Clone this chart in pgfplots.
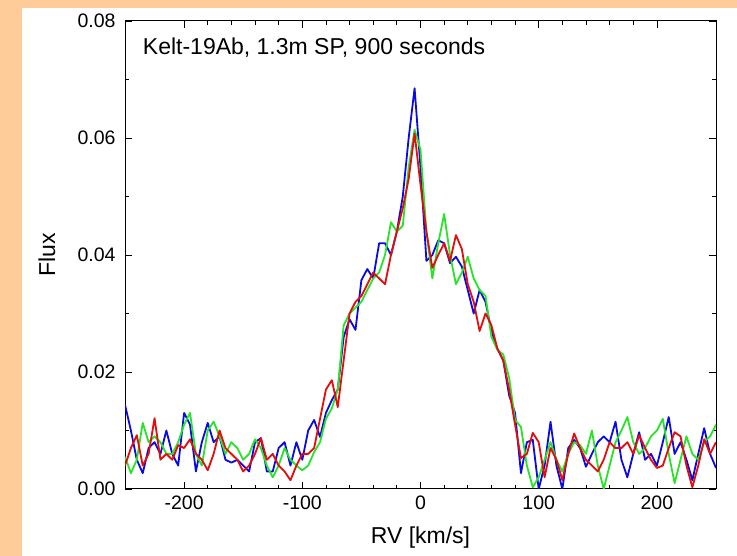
\documentclass[border=0pt]{standalone}
\usepackage{fontspec}
\setmainfont{Liberation Sans}
\usepackage{pgfplots}
\usepackage{pgfplotstable}
\pgfplotsset{compat=1.18}
\definecolor{peach}{RGB}{254,204,153}
\definecolor{cblue}{RGB}{10,10,225}
\definecolor{cgreen}{RGB}{40,228,40}
\definecolor{cred}{RGB}{228,12,12}

\pgfplotstableread{
v b g r
-250 0.0144 0.0055 0.0040
-245 0.0100 0.0027 0.0070
-240 0.0050 0.0050 0.0092
-235 0.0027 0.0113 0.0040
-230 0.0070 0.0080 0.0060
-225 0.0080 0.0090 0.0121
-220 0.0060 0.0080 0.0050
-215 0.0100 0.0060 0.0060
-210 0.0060 0.0060 0.0050
-205 0.0040 0.0080 0.0075
-200 0.0130 0.0110 0.0070
-195 0.0110 0.0130 0.0085
-190 0.0030 0.0060 0.0060
-185 0.0080 0.0040 0.0050
-180 0.0113 0.0100 0.0032
-175 0.0080 0.0115 0.0060
-170 0.0090 0.0090 0.0100
-165 0.0050 0.0060 0.0070
-160 0.0045 0.0080 0.0060
-155 0.0050 0.0070 0.0050
-150 0.0040 0.0050 0.0030
-145 0.0030 0.0060 0.0040
-140 0.0080 0.0085 0.0060
-135 0.0087 0.0070 0.0087
-130 0.0030 0.0040 0.0050
-125 0.0030 0.0020 0.0060
-120 0.0070 0.0040 0.0040
-115 0.0080 0.0070 0.0030
-110 0.0040 0.0050 0.0015
-105 0.0080 0.0040 0.0040
-100 0.0050 0.0032 0.0060
-95 0.0100 0.0040 0.0060
-90 0.0118 0.0063 0.0070
-85 0.0089 0.0080 0.0120
-80 0.0130 0.0120 0.0170
-75 0.0152 0.0138 0.0186
-70 0.0170 0.0170 0.0140
-65 0.0260 0.0280 0.0220
-60 0.0290 0.0300 0.0300
-55 0.0272 0.0310 0.0320
-50 0.0357 0.0320 0.0330
-45 0.0376 0.0340 0.0350
-40 0.0360 0.0360 0.0370
-35 0.0420 0.0370 0.0360
-30 0.0420 0.0400 0.0350
-25 0.0400 0.0456 0.0400
-20 0.0440 0.0440 0.0440
-15 0.0500 0.0450 0.0480
-10 0.0600 0.0550 0.0530
-5 0.0685 0.0614 0.0608
0 0.0550 0.0580 0.0520
5 0.0390 0.0440 0.0440
10 0.0400 0.0360 0.0378
15 0.0425 0.0420 0.0400
20 0.0420 0.0470 0.0420
25 0.0386 0.0400 0.0390
30 0.0397 0.0350 0.0434
35 0.0380 0.0370 0.0410
40 0.0340 0.0397 0.0350
45 0.0300 0.0360 0.0320
50 0.0340 0.0340 0.0270
55 0.0320 0.0330 0.0300
60 0.0270 0.0260 0.0280
65 0.0240 0.0238 0.0240
70 0.0220 0.0230 0.0220
75 0.0160 0.0190 0.0170
80 0.0130 0.0118 0.0110
85 0.0027 0.0106 0.0053
90 0.0080 0.0040 0.0060
95 0.0084 0.0003 0.0096
100 0.0000 0.0020 0.0080
105 0.0040 0.0050 0.0020
110 0.0115 0.0080 0.0070
115 0.0040 0.0050 0.0050
120 0.0000 0.0030 0.0015
125 0.0070 0.0060 0.0060
130 0.0084 0.0080 0.0095
135 0.0070 0.0075 0.0070
140 0.0038 0.0060 0.0050
145 0.0060 0.0100 0.0040
150 0.0080 0.0040 0.0030
155 0.0090 0.0000 0.0050
160 0.0080 0.0040 0.0080
165 0.0115 0.0080 0.0070
170 0.0050 0.0100 0.0070
175 0.0020 0.0123 0.0080
180 0.0060 0.0080 0.0060
185 0.0097 0.0060 0.0092
190 0.0050 0.0070 0.0070
195 0.0060 0.0090 0.0050
200 0.0040 0.0100 0.0036
205 0.0080 0.0120 0.0040
210 0.0123 0.0060 0.0070
215 0.0060 0.0010 0.0097
220 0.0080 0.0050 0.0090
225 0.0050 0.0090 0.0040
230 0.0015 0.0060 0.0003
235 0.0060 0.0050 0.0040
240 0.0104 0.0080 0.0085
245 0.0060 0.0090 0.0060
250 0.0036 0.0110 0.0080
}\datatable

\begin{document}
\begin{tikzpicture}
\useasboundingbox (0pt,0pt) rectangle (737pt,556pt);
\fill[peach] (0pt,0pt) rectangle (737pt,556pt);
\fill[white] (22pt,0pt) rectangle (737pt,548pt);
\begin{axis}[
  at={(125pt,67pt)}, anchor=south west,
  width=591pt, height=468pt, scale only axis,
  xmin=-250, xmax=250, ymin=0, ymax=0.08,
  xtick={-200,-100,0,100,200}, minor x tick num=4,
  ytick={0,0.02,0.04,0.06,0.08}, minor y tick num=1,
  tick align=inside, xtick pos=both, ytick pos=both,
  major tick length=7pt, minor tick length=4pt,
  every tick/.style={black, line width=0.8pt},
  axis line style={black, line width=1pt},
  scaled y ticks=false,
  /pgf/number format/assume math mode=true,
  yticklabel style={/pgf/number format/fixed, /pgf/number format/fixed zerofill, /pgf/number format/precision=2, font=\fontsize{19.5}{23}\selectfont, xshift=-6pt},
  xticklabel style={font=\fontsize{19.5}{23}\selectfont, yshift=-3.5pt},
  xlabel={RV [km/s]}, ylabel={Flux},
  xlabel style={at={(axis description cs:0.5,-0.1154)}, anchor=base, font=\fontsize{23}{27}\selectfont},
  ylabel style={at={(axis description cs:-0.1184,0.5)}, anchor=base, font=\fontsize{23}{27}\selectfont},
  every axis plot/.append style={line width=1.8pt, line join=round},
]
\addplot[cblue] table[x=v,y=b] {\datatable};
\addplot[cgreen] table[x=v,y=g] {\datatable};
\addplot[cred] table[x=v,y=r] {\datatable};
\node[anchor=base west, font=\fontsize{23}{27}\selectfont, inner sep=0pt] at (rel axis cs:0.03,0.929) {Kelt-19Ab, 1.3m SP, 900 seconds};
\end{axis}
\end{tikzpicture}
\end{document}
